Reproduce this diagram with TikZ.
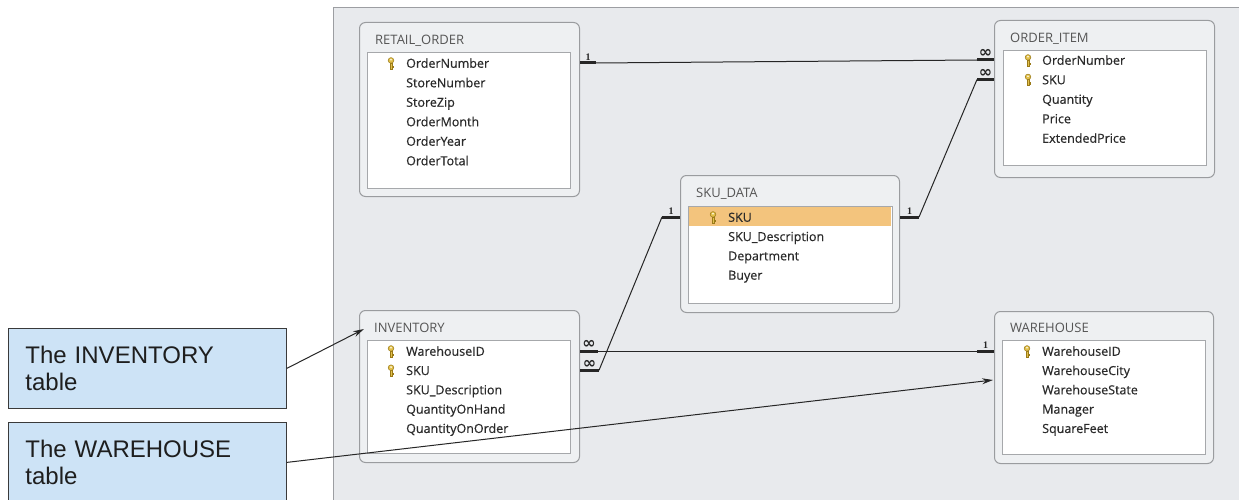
\documentclass[tikz,border=0pt]{standalone}
\usepackage{fontspec}
\setmainfont{Open Sans}
\newfontfamily\fieldfont{Open Sans}[FakeBold=0.5]
\newfontfamily\notefont{Liberation Sans}
\newfontfamily\cardfont{Liberation Serif}
\newfontfamily\infinfont{DejaVu Sans}
\usepackage{tikz}
\usetikzlibrary{positioning, calc}
\usetikzlibrary{arrows.meta}

\newcommand{\manymark}{{\infinfont\bfseries\fontsize{16}{16}\selectfont ∞}}

\begin{document}
\begin{tikzpicture}[x=1pt, y=-1pt, >={Stealth[length=11pt,width=6pt]},
        tbl/.style={draw=tblborder, fill=tblfill, rounded corners=6pt, line width=1pt, inner sep=0pt, anchor=north west},
        inbox/.style={draw=inborder, fill=white, line width=1.2pt, inner sep=0pt, anchor=north west},
        ttl/.style={anchor=west, inner sep=0pt, text height=9.5pt, text depth=0pt, font=\fontsize{13}{15}\selectfont, text=ttltext},
        fld/.style={anchor=west, inner sep=0pt, text height=9.5pt, text depth=0pt, font=\fieldfont\fontsize{12.5}{15}\selectfont, text=fldtext},
        selrow/.style={fill=selorange, inner sep=0pt, anchor=north west},
        stub/.style={draw=linedark, line width=3pt},
        rel/.style={draw=linedark, line width=1pt},
        card/.style={above, inner sep=0.8pt, text=linedark, font=\cardfont\fontsize{10}{11}\selectfont\bfseries},
        note/.style={draw=noteline, fill=notefill, line width=0.8pt, anchor=north west, minimum width=278pt, minimum height=80pt,
            text width=244pt, inner xsep=17pt, align=left, text=notetext, font=\notefont\fontsize{24}{27}\selectfont},
        keyicon/.pic={
            \filldraw[fill=keygold, draw=keydark, line width=0.5pt] (-1,0) rectangle (1,6);
            \filldraw[fill=keygold, draw=keydark, line width=0.5pt] (1,3.2) rectangle (2.6,4.4);
            \filldraw[fill=keygold, draw=keydark, line width=0.5pt] (0,-2.6) circle (2.8);
            \fill[white] (0,-3.2) circle (0.9);
        }]
        % Define colors
        \definecolor{panelfill}{HTML}{E8EAED}
        \definecolor{panelline}{HTML}{9C9EA2}
        \definecolor{tblfill}{HTML}{EEF0F2}
        \definecolor{tblborder}{HTML}{9A9C9F}
        \definecolor{inborder}{HTML}{A6A8AB}
        \definecolor{ttltext}{HTML}{555555}
        \definecolor{fldtext}{HTML}{2A2A2A}
        \definecolor{selorange}{HTML}{F3C47D}
        \definecolor{linedark}{HTML}{262626}
        \definecolor{keygold}{HTML}{E2C04A}
        \definecolor{keydark}{HTML}{9A7A18}
        \definecolor{notefill}{HTML}{CDE3F6}
        \definecolor{noteline}{HTML}{3A3A3A}
        \definecolor{notetext}{HTML}{1E1E1E}

        \useasboundingbox (0,0) rectangle (1239,500);
        \clip (0,0) rectangle (1239,500);

        % Background panel
        \fill[panelfill] (333,8) rectangle (1260,520);
        \draw[panelline, line width=1pt] (333,520) -- (333,8) -- (1260,8);

        % RETAIL_ORDER
        \node[tbl, minimum width=220pt, minimum height=174pt] (retail) at (359,22) {};
        \node[inbox, minimum width=203pt, minimum height=136pt] (retail-in) at (367,52) {};
        \node[ttl] (retail-t) at (375,40) {RETAIL\_ORDER};
        \foreach \f [count=\i] in {OrderNumber, StoreNumber, StoreZip, OrderMonth, OrderYear, OrderTotal}
            \node[fld] (ro\i) at (406,{63+19.5*(\i-1)}) {\f};
        \pic at ([xshift=-15pt]ro1.west) {keyicon};

        % ORDER_ITEM
        \node[tbl, minimum width=220pt, minimum height=157pt] (orderitem) at (994,20) {};
        \node[inbox, minimum width=203pt, minimum height=115pt] (orderitem-in) at (1003,50) {};
        \node[ttl] (orderitem-t) at (1010,38) {ORDER\_ITEM};
        \foreach \f [count=\i] in {OrderNumber, SKU, Quantity, Price, ExtendedPrice}
            \node[fld] (oi\i) at (1042,{60+19.5*(\i-1)}) {\f};
        \foreach \i in {1,2}
            \pic at ([xshift=-14pt]oi\i.west) {keyicon};

        % SKU_DATA
        \node[tbl, minimum width=219pt, minimum height=137pt] (skudata) at (680,175) {};
        \node[inbox, minimum width=204pt, minimum height=97pt] (skudata-in) at (688,206) {};
        \node[selrow, minimum width=202pt, minimum height=19pt] (sku-sel) at ([shift={(1,1)}]skudata-in.north west) {};
        \node[ttl] (skudata-t) at (696,193) {SKU\_DATA};
        \foreach \f [count=\i] in {SKU, SKU\_Description, Department, Buyer}
            \node[fld] (sku\i) at (728,{217+19.3*(\i-1)}) {\f};
        \pic at ([xshift=-15pt]sku1.west) {keyicon};

        % INVENTORY
        \node[tbl, minimum width=220pt, minimum height=152pt] (inventory) at (359,310) {};
        \node[inbox, minimum width=203pt, minimum height=113pt] (inventory-in) at (367,340) {};
        \node[ttl] (inventory-t) at (374,328) {INVENTORY};
        \foreach \f [count=\i] in {WarehouseID, SKU, SKU\_Description, QuantityOnHand, QuantityOnOrder}
            \node[fld] (inv\i) at (406,{351+19.3*(\i-1)}) {\f};
        \foreach \i in {1,2}
            \pic at ([xshift=-15pt]inv\i.west) {keyicon};

        % WAREHOUSE
        \node[tbl, minimum width=219pt, minimum height=152pt] (warehouse) at (994,311) {};
        \node[inbox, minimum width=203pt, minimum height=114pt] (warehouse-in) at (1002,340) {};
        \node[ttl] (warehouse-t) at (1010,328) {WAREHOUSE};
        \foreach \f [count=\i] in {WarehouseID, WarehouseCity, WarehouseState, Manager, SquareFeet}
            \node[fld] (wh\i) at (1042,{351+19.3*(\i-1)}) {\f};
        \pic at ([xshift=-15pt]wh1.west) {keyicon};

        % Relationships
        \draw[stub] (retail.east |- ro1) -- node[card]{1} ++(16,0) coordinate (ro-a);
        \draw[stub] (orderitem.west |- oi1) -- node[card]{\manymark} ++(-17,0) coordinate (oi-a);
        \draw[rel] (ro-a) -- (oi-a);

        \draw[stub] (skudata.east |- sku1) -- node[card]{1} ++(19,0) coordinate (sku-b);
        \draw[stub] (orderitem.west |- oi2) -- node[card]{\manymark} ++(-17,0) coordinate (oi-b);
        \draw[rel] (sku-b) -- (oi-b);

        \draw[stub] (inventory.east |- inv2) -- node[card]{\manymark} ++(19,0) coordinate (inv-b);
        \draw[stub] (skudata.west |- sku1) -- node[card]{1} ++(-18,0) coordinate (sku-a);
        \draw[rel] (inv-b) -- (sku-a);

        \draw[stub] (inventory.east |- inv1) -- node[card]{\manymark} ++(18,0) coordinate (inv-a);
        \draw[stub] (warehouse.west |- wh1) -- node[card]{1} ++(-17,0) coordinate (wh-a);
        \draw[rel] (inv-a) -- (wh-a);

        % Callouts
        \node[note] (inv-note) at (8,328) {The INVENTORY\\table};
        \node[note] (wh-note) at (8,422) {The WAREHOUSE\\table};
        \coordinate (inv-tip) at (364,329);
        \coordinate (wh-tip) at (993,380);
        \draw[->, draw=linedark, line width=1pt] (inv-note.east) -- (inv-tip);
        \draw[->, draw=linedark, line width=1pt] (wh-note.east) -- (wh-tip);
    \end{tikzpicture}
\end{document}
